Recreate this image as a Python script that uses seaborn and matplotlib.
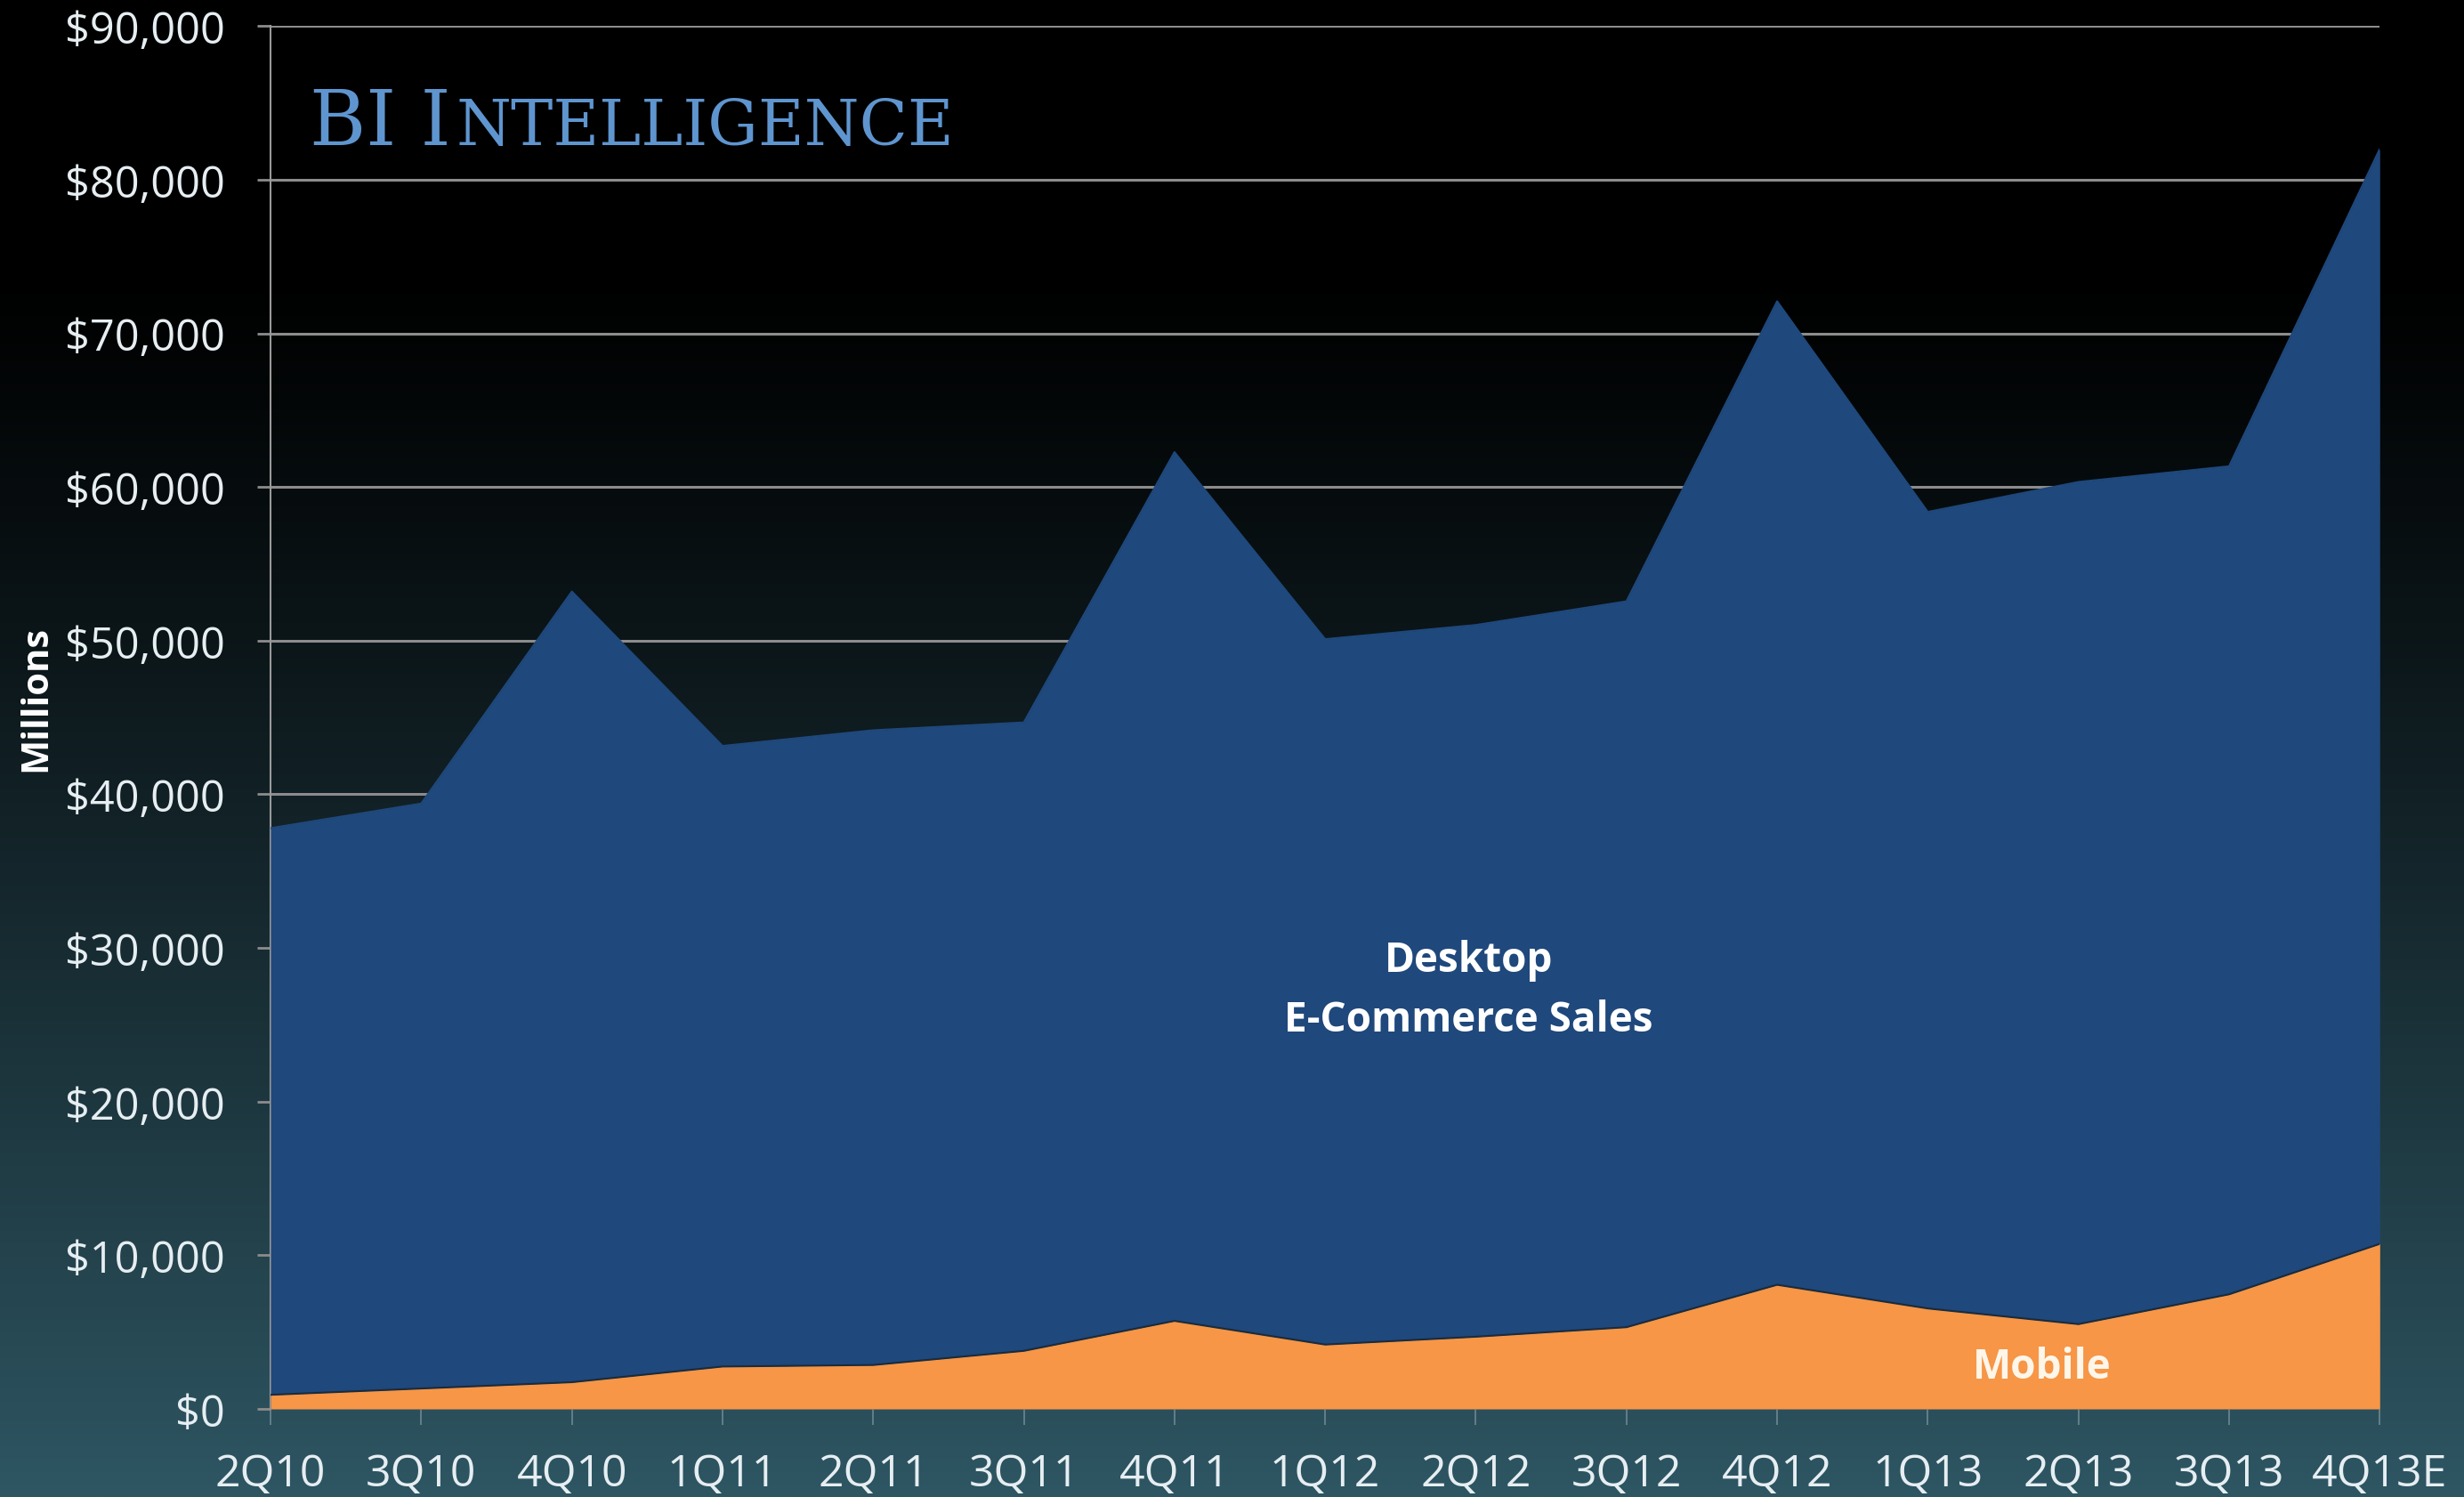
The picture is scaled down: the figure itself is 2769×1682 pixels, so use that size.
import numpy as np
import pandas as pd
import matplotlib
matplotlib.use("Agg")
import matplotlib.pyplot as plt
import seaborn as sns
from matplotlib.ticker import FuncFormatter

# data (millions of dollars)
quarters = ["2Q10", "3Q10", "4Q10", "1Q11", "2Q11", "3Q11", "4Q11", "1Q12",
            "2Q12", "3Q12", "4Q12", "1Q13", "2Q13", "3Q13", "4Q13E"]
mobile = [920, 1330, 1740, 2760, 2860, 3780, 5730, 4190,
          4700, 5320, 8080, 6540, 5520, 7460, 10740]
desktop = [36880, 38070, 51460, 40390, 41310, 40900, 56540, 45910,
           46320, 47240, 64010, 51840, 54810, 53890, 71260]

df = pd.DataFrame({"quarter": quarters, "mobile": mobile, "desktop": desktop})
df["x"] = np.arange(len(df))
df["total"] = df["mobile"] + df["desktop"]

sns.set_theme(style="dark")
plt.rcParams["font.family"] = ["Open Sans", "DejaVu Sans"]

fig = plt.figure(figsize=(27.69, 16.83), dpi=100)

# gradient background: black at top, dark teal at bottom
bg = fig.add_axes([0, 0, 1, 1], zorder=-10)
t = np.linspace(0, 1, 600)
w = np.clip((t - 0.18) / 0.82, 0, 1) ** 1.15
top = np.array([0, 0, 0]) / 255
bot = np.array([46, 86, 99]) / 255
grad = top[None, :] * (1 - w[:, None]) + bot[None, :] * w[:, None]
bg.imshow(grad[:, None, :], aspect="auto", extent=[0, 1, 0, 1])
bg.set_axis_off()

ax = fig.add_axes([0.1098, 0.0588, 0.856, 0.9232])
ax.set_facecolor("none")

desk_col = "#1f487c"
mob_col = "#f69646"
grid_col = "#8c8c8c"

ax.fill_between(df["x"], 0, df["total"], color=desk_col, lw=0, zorder=2)
ax.fill_between(df["x"], 0, df["mobile"], color=mob_col, lw=0, zorder=3)
sns.lineplot(data=df, x="x", y="total", ax=ax, color=desk_col, lw=1.5, zorder=4)
sns.lineplot(data=df, x="x", y="mobile", ax=ax, color="#1a2b3c", lw=1.5, zorder=4)

ax.set_xlim(0, len(df) - 1)
ax.set_ylim(0, 90000)
ax.set_yticks(np.arange(0, 90001, 10000))
ax.yaxis.set_major_formatter(FuncFormatter(lambda v, p: f"${v:,.0f}"))
ax.set_xticks(df["x"])
ax.set_xticklabels(df["quarter"])

ax.grid(False)
for v in np.arange(10000, 90001, 10000):
    ax.axhline(v, color=grid_col, lw=2.2, zorder=1)

for s in ["top", "right", "bottom"]:
    ax.spines[s].set_visible(False)
ax.spines["left"].set_color("#9a9a9a")
ax.spines["left"].set_linewidth(1.5)
ax.spines["left"].set_zorder(1)

ax.tick_params(axis="y", colors="#e6eef2", labelsize=35, length=11, width=2,
               pad=26, left=True, color=grid_col)
ax.tick_params(axis="x", colors="#e6eef2", labelsize=36, length=13, width=1.2,
               pad=22, bottom=True, color="#6d8791")

ax.set_xlabel("")
ax.set_ylabel("Millions", color="white", fontsize=30, fontweight="bold", labelpad=4)
ax.yaxis.set_label_coords(-0.1025, 0.514)

ax.text(0.568, 0.303, "Desktop\nE-Commerce Sales", transform=ax.transAxes,
        ha="center", va="center", color="white", fontsize=33, fontweight="bold",
        linespacing=1.55, zorder=5)
ax.text(11.76, 2760, "Mobile", ha="center", va="center", color="#fff6ea",
        fontsize=33, fontweight="bold", zorder=5)

# "BI Intelligence" in small caps, built from two pieces
title_col = "#5f95cf"
fig.canvas.draw()
t1 = fig.text(348 / 2769, 1 - 163 / 1683, "BI I", color=title_col,
              fontsize=62, family="DejaVu Serif", va="baseline")
r = fig.canvas.get_renderer()
bb = t1.get_window_extent(renderer=r)
fig.text(bb.x1 / fig.bbox.width + 0.002, 1 - 163 / 1683, "NTELLIGENCE", color=title_col,
         fontsize=51, family="DejaVu Serif", va="baseline")

fig.savefig("out.png", dpi=100)
